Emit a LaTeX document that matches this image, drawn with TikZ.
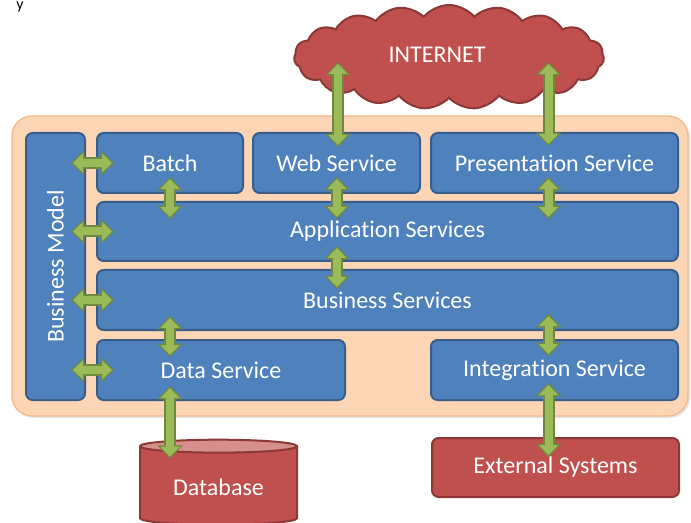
\documentclass[tikz,border=0pt]{standalone}
\usepackage{fontspec}
\setmainfont{Carlito}[Ligatures=CommonOff]
\usetikzlibrary{arrows.meta,calc,shapes.geometric,shapes.symbols,shadows}
\definecolor{boxblue}{HTML}{4F81BD}
\definecolor{boxedge}{HTML}{385D8A}
\definecolor{peach}{HTML}{FCD5B5}
\definecolor{peachedge}{HTML}{F4B98A}
\definecolor{boxred}{HTML}{C0504D}
\definecolor{rededge}{HTML}{8C3836}
\definecolor{redtop}{HTML}{D68F8D}
\definecolor{leaf}{HTML}{9BBB59}
\definecolor{leafedge}{HTML}{71893F}
\tikzset{
  layer/.style={draw=boxedge, fill=boxblue, line width=1.5pt, rounded corners=5pt,
    text=white, font=\fontsize{18}{21}\selectfont, inner sep=0pt},
  outside/.style={layer, draw=rededge, fill=boxred},
  garrow/.style={line width=6pt, draw=leaf, shorten <=1.5pt, shorten >=1.5pt,
    {Triangle[length=7.5pt,width=14.5pt,line width=0pt]}-{Triangle[length=7.5pt,width=14.5pt,line width=0pt]},
    preaction={draw=leafedge, line width=9pt, shorten <=0pt, shorten >=0pt,
      {Triangle[length=10pt,width=19pt,line width=0pt]}-{Triangle[length=10pt,width=19pt,line width=0pt]}}}
}
\begin{document}
\begin{tikzpicture}[x=0.75pt,y=-0.75pt]
  \useasboundingbox (0,0) rectangle (691,523);
  \node[anchor=base, inner sep=0pt, font=\fontsize{12}{14}\selectfont] (cut) at (20,10) {y};
  \node[fill=peach, draw=peachedge, line width=1pt, rounded corners=15pt,
    minimum width=507pt, minimum height=225pt,
    drop shadow={opacity=0.2, shadow xshift=1.5pt, shadow yshift=-1.5pt}] (frame) at (350,266) {};
  \node[cloud, cloud puffs=19, cloud puff arc=100, aspect=3.1, draw=rededge, fill=boxred,
    line width=1.5pt, minimum width=232.5pt, minimum height=78pt] (net) at (449,57) {};
  \node[text=white, font=\fontsize{18}{21}\selectfont] (nettext) at (437,55) {INTERNET};

  \node[layer, rotate=90, minimum width=200.25pt, minimum height=44.25pt] (bmodel) at (55.5,266.5) {Business Model};
  \node[layer, minimum width=109.5pt, minimum height=45pt] (batch) at (170,163) {Batch};
  \node[layer, minimum width=125.25pt, minimum height=45pt] (web) at (336.5,163) {Web Service};
  \node[layer, minimum width=185.25pt, minimum height=45pt] (pres) at (554.5,163) {Presentation Service};
  \node[layer, minimum width=435.75pt, minimum height=44.25pt] (app) at (387.5,231.5) {Application Services};
  \node[layer, minimum width=435.75pt, minimum height=45pt] (bus) at (387.5,300) {Business Services};
  \node[layer, minimum width=186pt, minimum height=45pt] (data) at (221,370) {Data Service};
  \node[layer, minimum width=185.25pt, minimum height=45pt] (integ) at (554.5,370) {Integration Service};

  \node[cylinder, shape border rotate=90, aspect=0.13, draw=rededge, line width=1.5pt,
    cylinder uses custom fill, cylinder body fill=boxred, cylinder end fill=redtop,
    minimum width=117.75pt, minimum height=63.75pt, text=white,
    font=\fontsize{18}{21}\selectfont] (db) at (218.5,487) {Database};
  \node[outside, minimum width=185.25pt, minimum height=44.25pt] (ext) at (555.5,467.5) {External Systems};

  \draw[garrow] ($(web.north)+(1.5,-70)$) -- ($(web.north)+(1.5,15)$);
  \draw[garrow] ($(pres.north)+(-6,-70)$) -- ($(pres.north)+(-6,14)$);
  \draw[garrow] ($(batch.south)+(0,-17)$) -- ($(app.north -| batch.south)+(0,18)$);
  \draw[garrow] ($(web.south)+(0.5,-17)$) -- ($(app.north -| web.south)+(0.5,18)$);
  \draw[garrow] ($(pres.south)+(-6,-17)$) -- ($(app.north -| pres.south)+(-6,18)$);
  \draw[garrow] ($(app.south -| web.south)+(0.5,-16)$) -- ($(bus.north -| web.south)+(0.5,20)$);
  \draw[garrow] ($(bus.south -| batch.south)+(0,-15)$) -- ($(data.north -| batch.south)+(0,18)$);
  \draw[garrow] ($(bus.south -| pres.south)+(-6,-17)$) -- ($(integ.north -| pres.south)+(-6,17)$);
  \draw[garrow] ($(data.south -| batch.south)+(0,-15)$) -- ($(db.north -| batch.south)+(0,20)$);
  \draw[garrow] ($(integ.south -| pres.south)+(-6,-18)$) -- ($(ext.north -| pres.south)+(-6,20)$);
  \draw[garrow] ($(bmodel.south |- batch.west)+(-15,0)$) -- ($(batch.west)+(18,0)$);
  \draw[garrow] ($(bmodel.south |- app.west)+(-15,0)$) -- ($(app.west)+(18,0)$);
  \draw[garrow] ($(bmodel.south |- bus.west)+(-15,0)$) -- ($(bus.west)+(18,0)$);
  \draw[garrow] ($(bmodel.south |- data.west)+(-15,0)$) -- ($(data.west)+(18,0)$);
\end{tikzpicture}
\end{document}
